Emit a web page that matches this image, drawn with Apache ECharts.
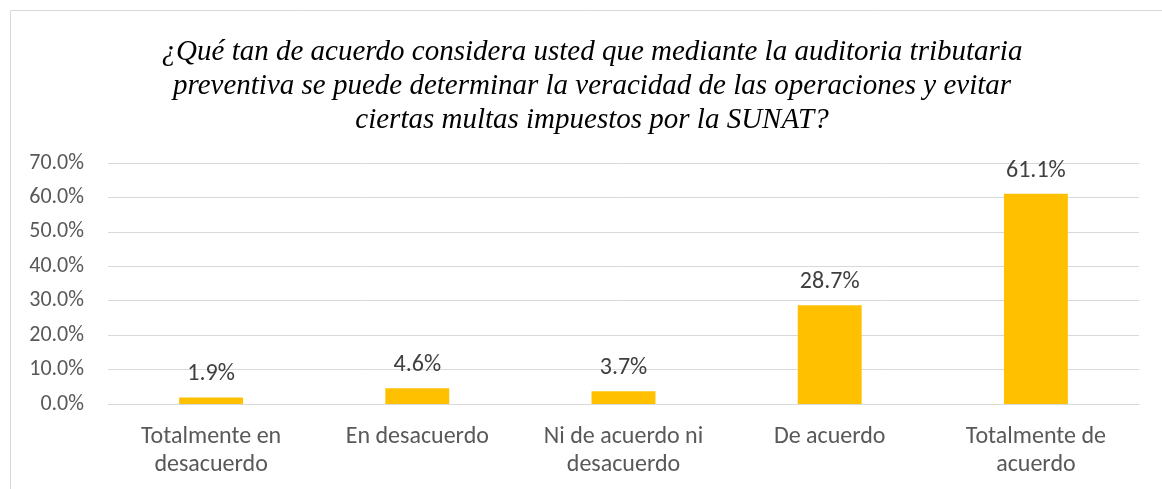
<!DOCTYPE html>
<html>
<head>
<meta charset="utf-8">
<script src="https://cdn.jsdelivr.net/npm/echarts@6/dist/echarts.min.js"></script>
<style>
  html, body { margin: 0; padding: 0; background: #fff; }
  #grafico { width: 1162px; height: 489px; }
</style>
</head>
<body>
<div id="grafico"></div>
<script>
// datos
var categorias = ['Totalmente en\ndesacuerdo', 'En desacuerdo', 'Ni de acuerdo ni\ndesacuerdo', 'De acuerdo', 'Totalmente de\nacuerdo'];
var porcentajes = [1.9, 4.6, 3.7, 28.7, 61.1];
var ejeY = { min: 0, max: 70, interval: 10 };

var titulo = '¿Qué tan de acuerdo considera usted que mediante la auditoria tributaria\n' +
  'preventiva se puede determinar la veracidad de las operaciones y evitar\n' +
  'ciertas multas impuestos por la SUNAT?';

var fuente = 'Carlito, Calibri, Lato, sans-serif';

var chart = echarts.init(document.getElementById('grafico'));
var option = {
  animation: false,
  title: {
    text: titulo,
    left: 587,
    top: 30,
    textAlign: 'center',
    textStyle: {
      fontFamily: '"Liberation Serif", "Times New Roman", serif',
      fontStyle: 'italic',
      fontWeight: 'normal',
      fontSize: 29,
      lineHeight: 34,
      color: '#000'
    }
  },
  graphic: [{
    type: 'rect',
    shape: { x: 10.5, y: 10.5, width: 1300, height: 600 },
    style: { fill: 'none', stroke: '#d9d9d9', lineWidth: 1 },
    silent: true
  }],
  grid: { left: 108, right: 23, top: 163, bottom: 85 },
  xAxis: {
    type: 'category',
    data: categorias,
    axisLine: { lineStyle: { color: '#d9d9d9', width: 1 } },
    axisTick: { show: false },
    axisLabel: {
      color: '#595959',
      fontFamily: fuente,
      fontSize: 24,
      lineHeight: 28,
      margin: 19,
      interval: 0
    }
  },
  yAxis: {
    type: 'value',
    min: ejeY.min,
    max: ejeY.max,
    interval: ejeY.interval,
    axisLine: { show: false },
    axisTick: { show: false },
    splitLine: { lineStyle: { color: '#d9d9d9', width: 1 } },
    axisLabel: {
      color: '#595959',
      fontFamily: fuente,
      fontSize: 22,
      margin: 24,
      formatter: function (v) { return v.toFixed(1) + '%'; }
    }
  },
  series: [{
    type: 'bar',
    data: porcentajes,
    barWidth: '31%',
    itemStyle: { color: '#ffc000' },
    label: {
      show: true,
      position: 'top',
      distance: 11,
      color: '#404040',
      fontFamily: fuente,
      fontSize: 24,
      formatter: function (p) { return p.value.toFixed(1) + '%'; }
    }
  }]
};
chart.setOption(option);
</script>
</body>
</html>
